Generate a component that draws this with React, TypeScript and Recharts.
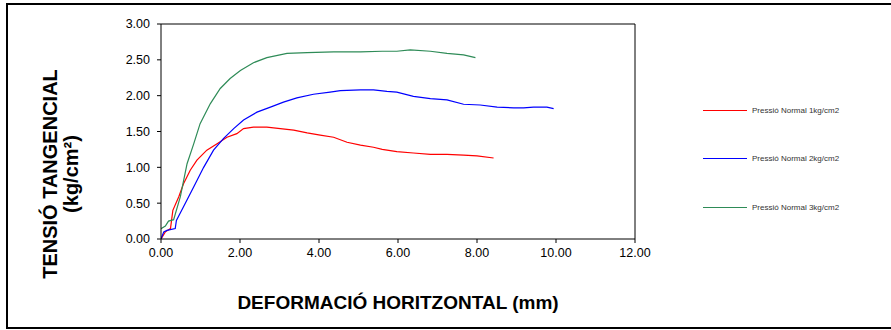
import { Line, LineChart, ReferenceLine, XAxis, YAxis } from "recharts";

const xTicks = [0, 2, 4, 6, 8, 10, 12];
const yTicks = [0, 0.5, 1, 1.5, 2, 2.5, 3];

const seriesNames = [
  "Pressió Normal 1kg/cm2",
  "Pressió Normal 2kg/cm2",
  "Pressió Normal 3kg/cm2",
];
const seriesColors = ["#ff0000", "#0000ff", "#2e8b57"];

// 1 kg/cm2
const redX = [0, 0.11, 0.24, 0.3, 0.45, 0.57, 0.74, 0.91, 1.16, 1.42, 1.67, 1.92, 2.09, 2.34, 2.68, 3.02, 3.36, 3.7, 4.03, 4.37, 4.71, 5.05, 5.38, 5.6, 5.97, 6.39, 6.82, 7.24, 7.66, 8.0, 8.42];
const redY = [0, 0.1, 0.145, 0.4, 0.59, 0.77, 0.96, 1.1, 1.24, 1.33, 1.42, 1.47, 1.54, 1.56, 1.56, 1.54, 1.52, 1.48, 1.45, 1.42, 1.35, 1.31, 1.28, 1.25, 1.22, 1.2, 1.18, 1.18, 1.17, 1.16, 1.13];

// 2 kg/cm2
const blueX = [0, 0.07, 0.15, 0.36, 0.39, 0.57, 0.83, 1.08, 1.33, 1.58, 1.84, 2.09, 2.43, 2.77, 3.1, 3.44, 3.86, 4.28, 4.54, 5.05, 5.38, 5.72, 5.97, 6.39, 6.82, 7.24, 7.66, 8.08, 8.51, 8.93, 9.18, 9.43, 9.77, 9.94];
const blueY = [0, 0.1, 0.12, 0.145, 0.26, 0.45, 0.73, 1.0, 1.24, 1.4, 1.54, 1.66, 1.77, 1.84, 1.91, 1.97, 2.02, 2.05, 2.07, 2.08, 2.08, 2.06, 2.05, 1.99, 1.96, 1.94, 1.88, 1.87, 1.84, 1.83, 1.83, 1.84, 1.84, 1.82];

// 3 kg/cm2
const greenX = [0, 0.11, 0.19, 0.32, 0.49, 0.66, 0.83, 0.99, 1.25, 1.5, 1.75, 2.01, 2.34, 2.68, 3.19, 3.7, 4.37, 5.05, 5.6, 5.97, 6.31, 6.82, 7.24, 7.66, 7.96];
const greenY = [0.145, 0.18, 0.25, 0.27, 0.59, 1.05, 1.33, 1.61, 1.89, 2.1, 2.24, 2.35, 2.46, 2.53, 2.59, 2.6, 2.61, 2.61, 2.62, 2.62, 2.64, 2.62, 2.59, 2.57, 2.53];

const zip = (xs: number[], ys: number[]) => xs.map((x, i) => ({ x, y: ys[i] }));
const series = [zip(redX, redY), zip(blueX, blueY), zip(greenX, greenY)];

const font = "Arial, 'Liberation Sans', sans-serif";
const fmt = (v: number) => v.toFixed(2);

function YTitle(props: any) {
  const { viewBox } = props;
  const cy = viewBox.y + 150;
  return (
    <g fontFamily={font} fontWeight="bold" fontSize={20} fill="#000">
      <text x={57} y={cy} textAnchor="middle" transform={`rotate(-90, 57, ${cy})`}>
        TENSIÓ TANGENCIAL
      </text>
      <text x={78} y={cy} textAnchor="middle" transform={`rotate(-90, 78, ${cy})`}>
        (kg/cm²)
      </text>
    </g>
  );
}

function XTitle(props: any) {
  const { viewBox } = props;
  return (
    <text
      x={viewBox.x + viewBox.width / 2}
      y={viewBox.y + 70}
      textAnchor="middle"
      fontFamily={font}
      fontWeight="bold"
      fontSize={19}
      fill="#000"
    >
      DEFORMACIÓ HORITZONTAL (mm)
    </text>
  );
}

function LegendBox() {
  return (
    <div style={{ position: "absolute", left: 703, top: 86, fontFamily: font, fontSize: 8, color: "#333" }}>
      {seriesNames.map((name, i) => (
        <div key={name} style={{ display: "flex", alignItems: "center", height: 48.5 }}>
          <div style={{ width: 44, height: 0, borderTop: `1.5px solid ${seriesColors[i]}`, marginRight: 5 }} />
          <span>{name}</span>
        </div>
      ))}
    </div>
  );
}

export default function App() {
  return (
    <div style={{ position: "fixed", left: 0, top: 0, width: 891, height: 330, background: "#fff", overflow: "hidden" }}>
      <div
        style={{
          position: "absolute",
          left: 6,
          top: 3,
          width: 900,
          height: 326,
          border: "2px solid #000",
          boxSizing: "border-box",
        }}
      />
      <LineChart
        width={891}
        height={330}
        margin={{ top: 24, right: 256, bottom: 0, left: 0 }}
        style={{ position: "absolute", left: 0, top: 0 }}
      >
        <XAxis
          type="number"
          dataKey="x"
          domain={[0, 12]}
          ticks={xTicks}
          tickFormatter={fmt}
          height={91}
          stroke="#000"
          tickSize={4}
          tickMargin={5}
          tick={{ fill: "#000", fontSize: 12.5, fontFamily: font }}
          allowDataOverflow
          label={<XTitle />}
        />
        <YAxis
          type="number"
          domain={[0, 3]}
          ticks={yTicks}
          tickFormatter={fmt}
          width={161}
          stroke="#000"
          tickSize={4}
          tickMargin={7}
          tick={{ fill: "#000", fontSize: 12.5, fontFamily: font }}
          allowDataOverflow
          label={<YTitle />}
        />
        <ReferenceLine y={3} stroke="#000" />
        <ReferenceLine x={12} stroke="#000" />
        {series.map((d, i) => (
          <Line
            key={seriesNames[i]}
            data={d}
            dataKey="y"
            name={seriesNames[i]}
            type="linear"
            stroke={seriesColors[i]}
            strokeWidth={1.2}
            dot={false}
            isAnimationActive={false}
          />
        ))}
      </LineChart>
      <LegendBox />
    </div>
  );
}
